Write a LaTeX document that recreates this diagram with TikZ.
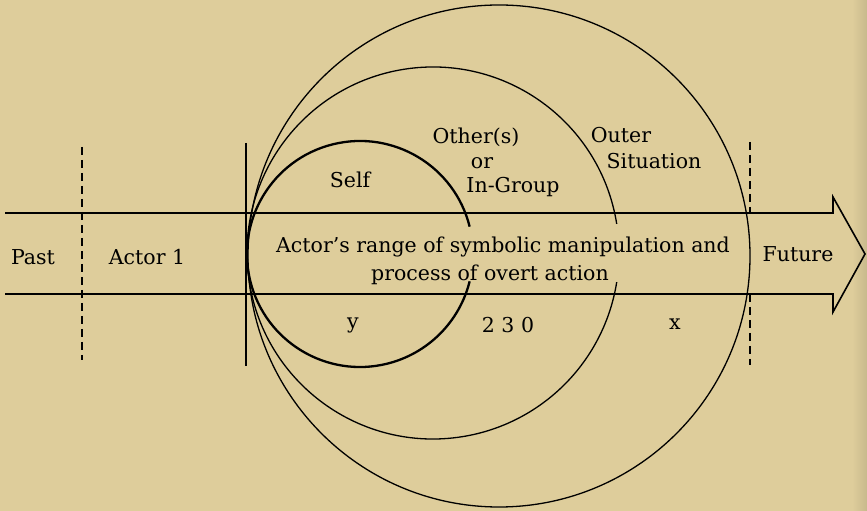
\documentclass[tikz,border=0pt]{standalone}
\usepackage{fontspec}
\setmainfont{DejaVu Serif}
\usepackage{xcolor}
\usetikzlibrary{calc}

\definecolor{paper}{RGB}{222,205,155}
\definecolor{paperedge}{RGB}{200,185,140}

\begin{document}
\begin{tikzpicture}[x=1pt,y=1pt,
		line/.style={line width=1.3pt,black},
		band/.style={line width=1.6pt,black},
		selfline/.style={line width=2.3pt,black},
		cut/.style={line width=1.2pt,dash pattern=on 8pt off 5pt},
		lbl/.style={inner sep=0pt,font=\fontsize{20.5}{24}\selectfont}]
			% paper
			\fill[paper] (0,0) rectangle (867,511);
			\shade[left color=paper,right color=paperedge] (852,0) rectangle (867,511);
			\useasboundingbox (0,0) rectangle (867,511);
			
			% time arrow
			\draw[band,line join=miter] (5,298) -- (833,298) -- (833,314) -- (865,257)
				-- (833,199) -- (833,217) -- (5,217);
			
			% dividing lines
			\draw[cut] (82,364) -- (82,151);
			\draw[line] (246,368) -- (246,145);
			\draw[cut] (750,369) -- (750,298);
			\draw[cut] (750,217) -- (750,146);
			
			% the three spheres, all touching the present
			\draw[selfline] (360,257) ++(14:113) arc[start angle=14,end angle=346,radius=113];
			\draw[line] (433,258) ++(9:186) arc[start angle=9,end angle=351,radius=186];
			\draw[line] (499,255) circle[radius=251];
			
			% text
			\node[lbl] (past) at (33,254) {Past};
			\node[lbl] (actor) at (147,254) {Actor 1};
			\node[lbl] (range) at (503,264) {Actor's range of symbolic manipulation and};
			\node[lbl] (process) at (490,236) {process of overt action};
			\node[lbl] (future) at (798,257) {Future};
			\node[lbl] (self) at (350,331) {Self};
			\node[lbl] (other) at (476,374) {Other(s)};
			\node[lbl] (or) at (482,348) {or};
			\node[lbl] (group) at (513,324) {In-Group};
			\node[lbl] (outer) at (621,376) {Outer};
			\node[lbl] (situation) at (654,350) {Situation};
			\node[lbl] (y) at (353,186) {y};
			\node[lbl] (nums) at (508,186) {2 3 0};
			\node[lbl] (x) at (675,187) {x};
		\end{tikzpicture}
\end{document}
